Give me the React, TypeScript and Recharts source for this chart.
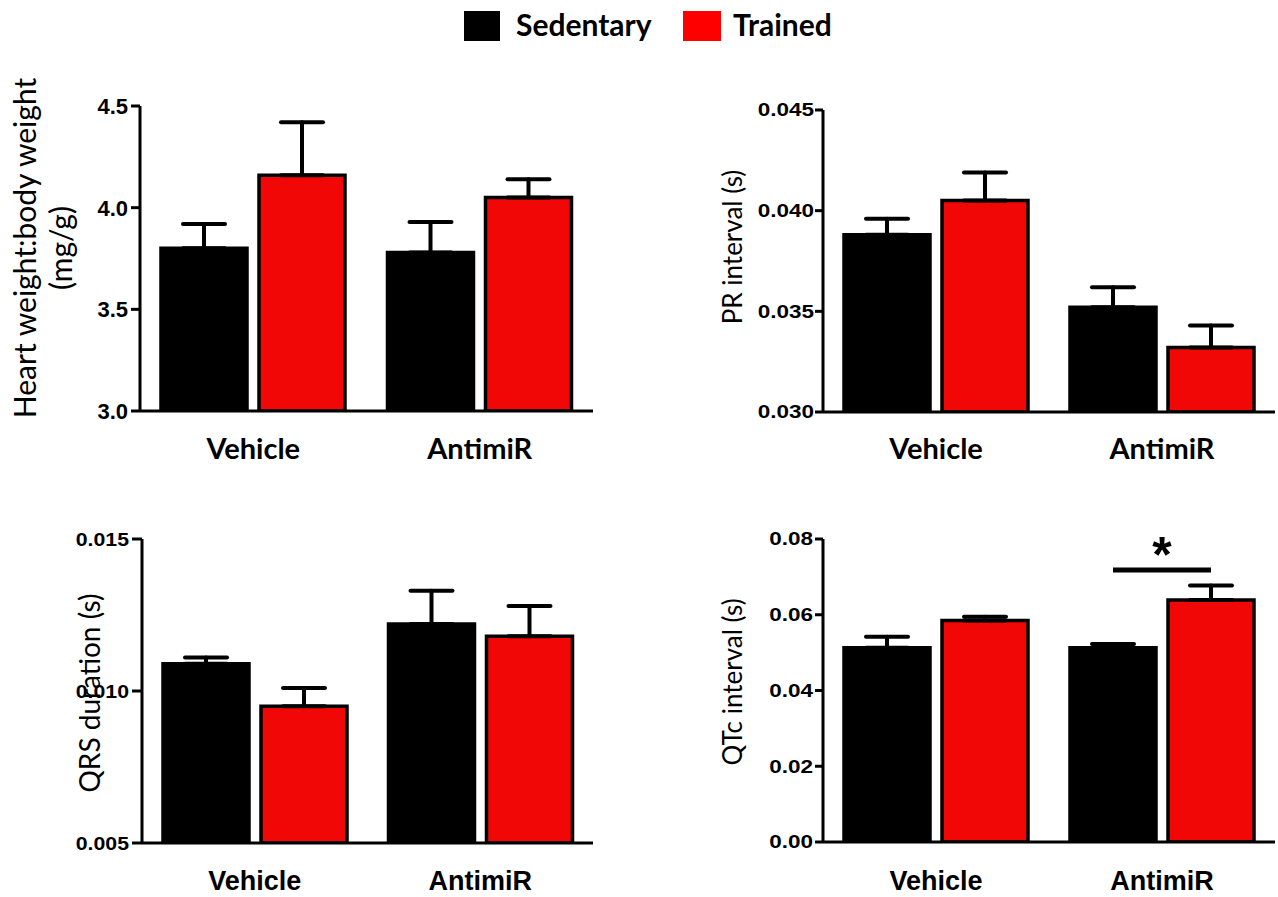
import React from 'react';
import { BarChart, Bar, XAxis, YAxis, ErrorBar, ReferenceLine } from 'recharts';

// ---------- data ----------
const categories = ['Vehicle', 'AntimiR'];
const seriesNames = ['Sedentary', 'Trained'];
const seriesColors = ['#000000', '#F20707'];

// Heart weight : body weight (mg/g)
const hwSedentary = [3.80, 3.78];
const hwSedentarySem = [0.12, 0.15];
const hwTrained = [4.16, 4.05];
const hwTrainedSem = [0.26, 0.09];
const hwTicks = [3.0, 3.5, 4.0, 4.5];

// PR interval (s)
const prSedentary = [0.0388, 0.0352];
const prSedentarySem = [0.0008, 0.0010];
const prTrained = [0.0405, 0.0332];
const prTrainedSem = [0.0014, 0.0011];
const prTicks = [0.030, 0.035, 0.040, 0.045];

// QRS duration (s)
const qrsSedentary = [0.0109, 0.0122];
const qrsSedentarySem = [0.0002, 0.0011];
const qrsTrained = [0.0095, 0.0118];
const qrsTrainedSem = [0.0006, 0.0010];
const qrsTicks = [0.005, 0.010, 0.015];

// QTc interval (s)
const qtcSedentary = [0.0513, 0.0513];
const qtcSedentarySem = [0.0029, 0.0010];
const qtcTrained = [0.0585, 0.0639];
const qtcTrainedSem = [0.0010, 0.0038];
const qtcTicks = [0, 0.02, 0.04, 0.06, 0.08];

const qtcSignificance = { category: 'AntimiR', value: 0.0718, label: '*' };

// ---------- helpers ----------
function buildRows(sed: number[], sedSem: number[], tr: number[], trSem: number[]) {
  return categories.map((c, i) => ({
    name: c,
    sed: sed[i],
    tr: tr[i],
    sedErr: [0, sedSem[i]],
    trErr: [0, trSem[i]],
  }));
}

const BAR_SIZE = 86;
const BAR_GAP = 12;
const ARIAL = "'Liberation Sans', Arial, sans-serif";
const LATO = "Lato, 'Noto Sans', sans-serif";

const makeYTick = (decimals: number, fontSize: number, scaleX: number) => (props: any) => {
  const { x, y, payload } = props;
  return (
    <g transform={`translate(${x},${y})`}>
      <text
        transform={`scale(${scaleX},1)`}
        textAnchor="end"
        dy="0.36em"
        fontFamily={ARIAL}
        fontWeight="bold"
        fontSize={fontSize}
        fill="#000"
      >
        {Number(payload.value).toFixed(decimals)}
      </text>
    </g>
  );
};

const makeXTick = (fontFamily: string, fontSize: number, offset: number) => (props: any) => {
  const { x, y, payload } = props;
  return (
    <text x={x} y={y + offset} textAnchor="middle" fontFamily={fontFamily} fontWeight="bold" fontSize={fontSize} fill="#000">
      {payload.value}
    </text>
  );
};

type PanelProps = {
  left: number;
  top: number;
  width: number;
  height: number;
  marginTop: number;
  marginRight: number;
  yAxisWidth: number;
  xAxisHeight: number;
  rows: any[];
  domain: [number, number];
  ticks: number[];
  decimals: number;
  tickFontSize: number;
  tickScaleX: number;
  tickSize: number;
  tickMargin: number;
  xFont: string;
  xFontSize: number;
  xOffset: number;
  significance?: { category: string; value: number; label: string };
};

function Panel(p: PanelProps) {
  return (
    <div style={{ position: 'absolute', left: p.left, top: p.top, width: p.width, height: p.height }}>
      <BarChart
        width={p.width}
        height={p.height}
        data={p.rows}
        margin={{ top: p.marginTop, right: p.marginRight, bottom: 0, left: 0 }}
        barGap={BAR_GAP}
        barSize={BAR_SIZE}
      >
        <XAxis
          dataKey="name"
          height={p.xAxisHeight}
          tickLine={false}
          tickSize={0}
          tickMargin={0}
          axisLine={{ stroke: '#000', strokeWidth: 3 }}
          tick={makeXTick(p.xFont, p.xFontSize, p.xOffset)}
          interval={0}
        />
        <YAxis
          width={p.yAxisWidth}
          domain={p.domain}
          ticks={p.ticks}
          interval={0}
          allowDataOverflow={true}
          axisLine={{ stroke: '#000', strokeWidth: 3 }}
          tickLine={{ stroke: '#000', strokeWidth: 3 }}
          tickSize={p.tickSize}
          tickMargin={p.tickMargin}
          tick={makeYTick(p.decimals, p.tickFontSize, p.tickScaleX)}
        />
        <Bar dataKey="sed" name={seriesNames[0]} fill={seriesColors[0]} stroke="#000" strokeWidth={3.5} isAnimationActive={false}>
          <ErrorBar dataKey="sedErr" direction="y" width={21} stroke="#000" strokeWidth={4} strokeLinecap="round" isAnimationActive={false} />
        </Bar>
        <Bar dataKey="tr" name={seriesNames[1]} fill={seriesColors[1]} stroke="#000" strokeWidth={3.5} isAnimationActive={false}>
          <ErrorBar dataKey="trErr" direction="y" width={21} stroke="#000" strokeWidth={4} strokeLinecap="round" isAnimationActive={false} />
        </Bar>
        {p.significance ? (
          <ReferenceLine
            segment={[
              { x: p.significance.category, y: p.significance.value },
              { x: p.significance.category, y: p.significance.value },
            ]}
            shape={(sp: any) => {
              const half = (BAR_SIZE + BAR_GAP) / 2;
              return (
                <g>
                  <line x1={sp.x1 - half} y1={sp.y1} x2={sp.x1 + half} y2={sp.y1} stroke="#000" strokeWidth={5} />
                  <text x={sp.x1} y={sp.y1 + 2} textAnchor="middle" fontFamily={ARIAL} fontWeight="bold" fontSize={50} fill="#000">
                    {p.significance!.label}
                  </text>
                </g>
              );
            }}
          />
        ) : null}
      </BarChart>
    </div>
  );
}

export default function App() {
  const hwRows = buildRows(hwSedentary, hwSedentarySem, hwTrained, hwTrainedSem);
  const prRows = buildRows(prSedentary, prSedentarySem, prTrained, prTrainedSem);
  const qrsRows = buildRows(qrsSedentary, qrsSedentarySem, qrsTrained, qrsTrainedSem);
  const qtcRows = buildRows(qtcSedentary, qtcSedentarySem, qtcTrained, qtcTrainedSem);

  return (
    <div style={{ position: 'absolute', left: 0, top: 0, width: 1278, height: 897, overflow: 'hidden', background: '#fff' }}>
      <Panel
        left={0} top={0} width={600} height={470}
        marginTop={106} marginRight={7} yAxisWidth={140} xAxisHeight={59}
        rows={hwRows} domain={[3, 4.5]} ticks={hwTicks} decimals={1}
        tickFontSize={22} tickScaleX={1} tickSize={9} tickMargin={3}
        xFont={LATO} xFontSize={29} xOffset={48}
      />
      <Panel
        left={640} top={0} width={638} height={470}
        marginTop={110} marginRight={3} yAxisWidth={183} xAxisHeight={58}
        rows={prRows} domain={[0.03, 0.045]} ticks={prTicks} decimals={3}
        tickFontSize={18} tickScaleX={1.25} tickSize={8} tickMargin={1}
        xFont={LATO} xFontSize={29} xOffset={47}
      />
      <Panel
        left={0} top={480} width={600} height={417}
        marginTop={59} marginRight={7} yAxisWidth={142} xAxisHeight={54}
        rows={qrsRows} domain={[0.005, 0.015]} ticks={qrsTicks} decimals={3}
        tickFontSize={19} tickScaleX={1.12} tickSize={10} tickMargin={3}
        xFont={ARIAL} xFontSize={27} xOffset={47}
      />
      <Panel
        left={640} top={480} width={638} height={417}
        marginTop={59} marginRight={3} yAxisWidth={183} xAxisHeight={55}
        rows={qtcRows} domain={[0, 0.08]} ticks={qtcTicks} decimals={2}
        tickFontSize={18} tickScaleX={1.25} tickSize={8} tickMargin={2}
        xFont={ARIAL} xFontSize={27} xOffset={48}
        significance={qtcSignificance}
      />
      <svg width={1278} height={897} style={{ position: 'absolute', left: 0, top: 0, pointerEvents: 'none' }}>
        {/* legend */}
        <rect x={464} y={11} width={36} height={30} fill={seriesColors[0]} />
        <text x={516} y={36} fontFamily={LATO} fontWeight="bold" fontSize={30} fill="#000">{seriesNames[0]}</text>
        <rect x={683} y={11} width={38} height={30} fill="#FF0000" />
        <text x={733} y={36} fontFamily={LATO} fontWeight="bold" fontSize={30} fill="#000">{seriesNames[1]}</text>
        {/* axis titles */}
        <text transform="translate(36,248) rotate(-90)" textAnchor="middle" fontFamily={LATO} fontSize={30} fill="#000">Heart weight:body weight</text>
        <text transform="translate(72,248) rotate(-90)" textAnchor="middle" fontFamily={LATO} fontSize={30} fill="#000">(mg/g)</text>
        <text transform="translate(742,247) rotate(-90)" textAnchor="middle" fontFamily={LATO} fontSize={26} fill="#000">PR interval (s)</text>
        <text transform="translate(100,693) rotate(-90)" textAnchor="middle" fontFamily={LATO} fontSize={28} fill="#000">QRS duration (s)</text>
        <text transform="translate(742,682) rotate(-90)" textAnchor="middle" fontFamily={LATO} fontSize={26} fill="#000">QTc interval (s)</text>
      </svg>
    </div>
  );
}
